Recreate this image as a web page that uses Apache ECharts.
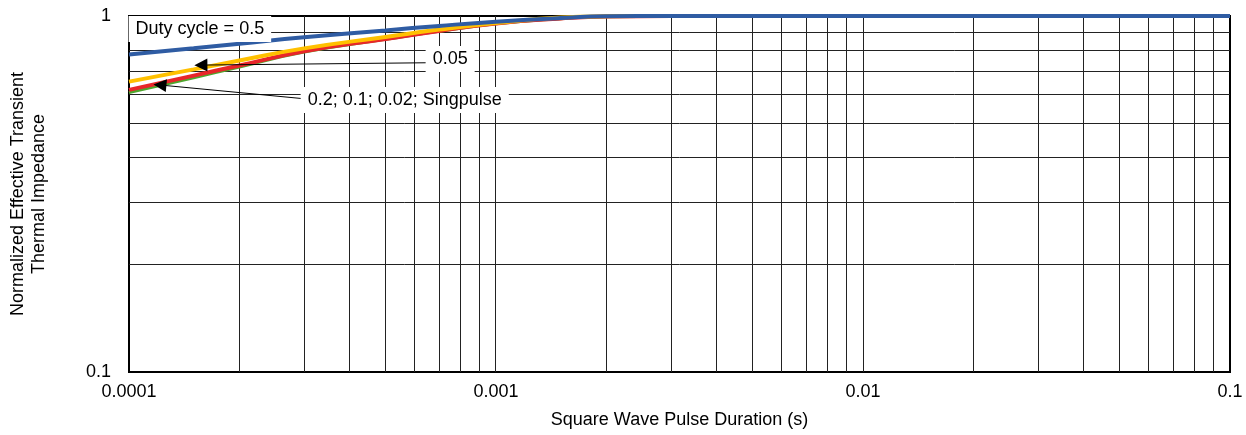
<!DOCTYPE html>
<html>
<head>
<meta charset="utf-8">
<script src="https://cdn.jsdelivr.net/npm/echarts@6/dist/echarts.min.js"></script>
<style>
  html, body { margin: 0; padding: 0; background: #fff; }
  #chart { width: 1246px; height: 435px; }
</style>
</head>
<body>
<div id="chart"></div>
<script>
// pulse duration (s) and normalized Zth for each duty cycle
var pulseTime = [0.0001, 0.00015, 0.0002, 0.0003, 0.0005, 0.0007, 0.001, 0.0015, 0.002, 0.003, 0.01, 0.1];
var duty05    = [0.780, 0.812, 0.836, 0.871, 0.911, 0.938, 0.964, 0.987, 0.998, 1, 1, 1];
var duty005   = [0.654, 0.708, 0.750, 0.811, 0.873, 0.916, 0.956, 0.990, 0.998, 1, 1, 1];
var duty02    = [0.620, 0.680, 0.726, 0.796, 0.862, 0.908, 0.953, 0.984, 0.997, 1, 1, 1];
var singPulse = [0.610, 0.671, 0.719, 0.792, 0.860, 0.906, 0.951, 0.983, 0.997, 1, 1, 1];

var xDecades = [0.0001, 0.001, 0.01];
var yDecades = [0.1];
var minorSteps = [1, 2, 3, 4, 5, 6, 7, 8, 9];

// annotation texts and where they sit (data coords)
var notes = [
    {text: 'Duty cycle = 0.5', at: [0.000156, 0.919]},
    {text: '0.05', at: [0.00075, 0.757]},
    {text: '0.2; 0.1; 0.02; Singpulse', at: [0.000564, 0.581]}
];
var arrows = [
    [[0.000649, 0.739], [0.000157, 0.728]],
    [[0.000303, 0.585], [0.0001214, 0.640]]
];

var font = 'Liberation Sans, Arial, sans-serif';
var gridColor = '#222';

function steps(arr) {
    var out = [];
    for (var i = 0; i < arr.length; i++) {
        for (var j = 0; j < minorSteps.length; j++) {
            out.push(+(arr[i] * minorSteps[j]).toPrecision(6));
        }
    }
    return out;
}
var xGrid = steps(xDecades).slice(1);   // skip the left border
var yGrid = steps(yDecades).slice(1);   // skip the bottom border

function zip(ys) {
    return pulseTime.map(function (x, i) { return [x, ys[i]]; });
}

function fmt(v) { return String(+v.toPrecision(6)); }

function crisp(v) { return Math.round(v - 0.5) + 0.5; }

function vLine(params, api) {
    var cs = params.coordSys;
    var x = crisp(api.coord([api.value(0), 1])[0]);
    return {
        type: 'line',
        shape: {x1: x, y1: cs.y, x2: x, y2: cs.y + cs.height},
        style: {stroke: gridColor, lineWidth: 1}
    };
}
function hLine(params, api) {
    var cs = params.coordSys;
    var y = crisp(api.coord([0.0001, api.value(1)])[1]);
    return {
        type: 'line',
        shape: {x1: cs.x, y1: y, x2: cs.x + cs.width, y2: y},
        style: {stroke: gridColor, lineWidth: 1}
    };
}

var myChart = echarts.init(document.getElementById('chart'));
var option = {
    animation: false,
    grid: {
        left: 126, right: 16, top: 16, bottom: 63,
        show: true, borderColor: '#000', borderWidth: 2
    },
    xAxis: {
        type: 'log',
        logBase: 10,
        min: 0.0001,
        max: 0.1,
        name: 'Square Wave Pulse Duration (s)',
        nameLocation: 'middle',
        nameGap: 39,
        nameTextStyle: {fontFamily: font, fontSize: 18, color: '#000'},
        axisLine: {lineStyle: {color: '#000', width: 2}},
        axisTick: {show: false},
        axisLabel: {fontFamily: font, fontSize: 18, color: '#000', margin: 11, formatter: fmt},
        splitLine: {show: false}
    },
    yAxis: {
        type: 'log',
        logBase: 10,
        min: 0.1,
        max: 1,
        name: 'Normalized Effective Transient\nThermal Impedance',
        nameLocation: 'middle',
        nameGap: 79,
        nameTextStyle: {fontFamily: font, fontSize: 18, color: '#000', lineHeight: 21},
        axisLine: {lineStyle: {color: '#000', width: 2}},
        axisTick: {show: false},
        axisLabel: {fontFamily: font, fontSize: 18, color: '#000', margin: 18, formatter: fmt},
        splitLine: {show: false}
    },
    series: [
        {
            name: 'xgrid',
            type: 'custom',
            silent: true,
            z: 1,
            clip: false,
            renderItem: vLine,
            data: xGrid.map(function (v) { return [v, 1]; })
        },
        {
            name: 'ygrid',
            type: 'custom',
            silent: true,
            z: 1,
            clip: false,
            renderItem: hLine,
            data: yGrid.map(function (v) { return [0.0001, v]; })
        },
        {
            name: 'Singpulse', type: 'line', data: zip(singPulse), z: 2,
            smooth: true, showSymbol: false,
            lineStyle: {color: '#4ea72e', width: 3}
        },
        {
            name: '0.2', type: 'line', data: zip(duty02), z: 3,
            smooth: true, showSymbol: false,
            lineStyle: {color: '#e8262a', width: 4}
        },
        {
            name: '0.05', type: 'line', data: zip(duty005), z: 4,
            smooth: true, showSymbol: false,
            lineStyle: {color: '#ffc000', width: 4}
        },
        {
            name: '0.5', type: 'line', data: zip(duty05), z: 5,
            smooth: true, showSymbol: false,
            lineStyle: {color: '#2f5ca3', width: 4}
        },
        {
            name: 'notes',
            type: 'line',
            data: [],
            z: 6,
            silent: true,
            markLine: {
                z: 6,
                silent: true,
                symbol: ['none', 'triangle'],
                symbolSize: 13,
                label: {show: false},
                lineStyle: {color: '#000', width: 1, type: 'solid'},
                itemStyle: {color: '#000'},
                data: arrows.map(function (a) {
                    return [{coord: a[0]}, {coord: a[1]}];
                })
            },
            markPoint: {
                z: 7,
                silent: true,
                symbol: 'rect',
                symbolSize: 1,
                itemStyle: {color: 'rgba(0,0,0,0)'},
                label: {
                    show: true,
                    position: 'inside',
                    fontFamily: font,
                    fontSize: 18,
                    color: '#000',
                    backgroundColor: '#fff',
                    padding: [4, 7]
                },
                data: notes.map(function (n) {
                    return {coord: n.at, value: n.text, label: {formatter: n.text}};
                })
            }
        }
    ]
};
myChart.setOption(option);
</script>
</body>
</html>
